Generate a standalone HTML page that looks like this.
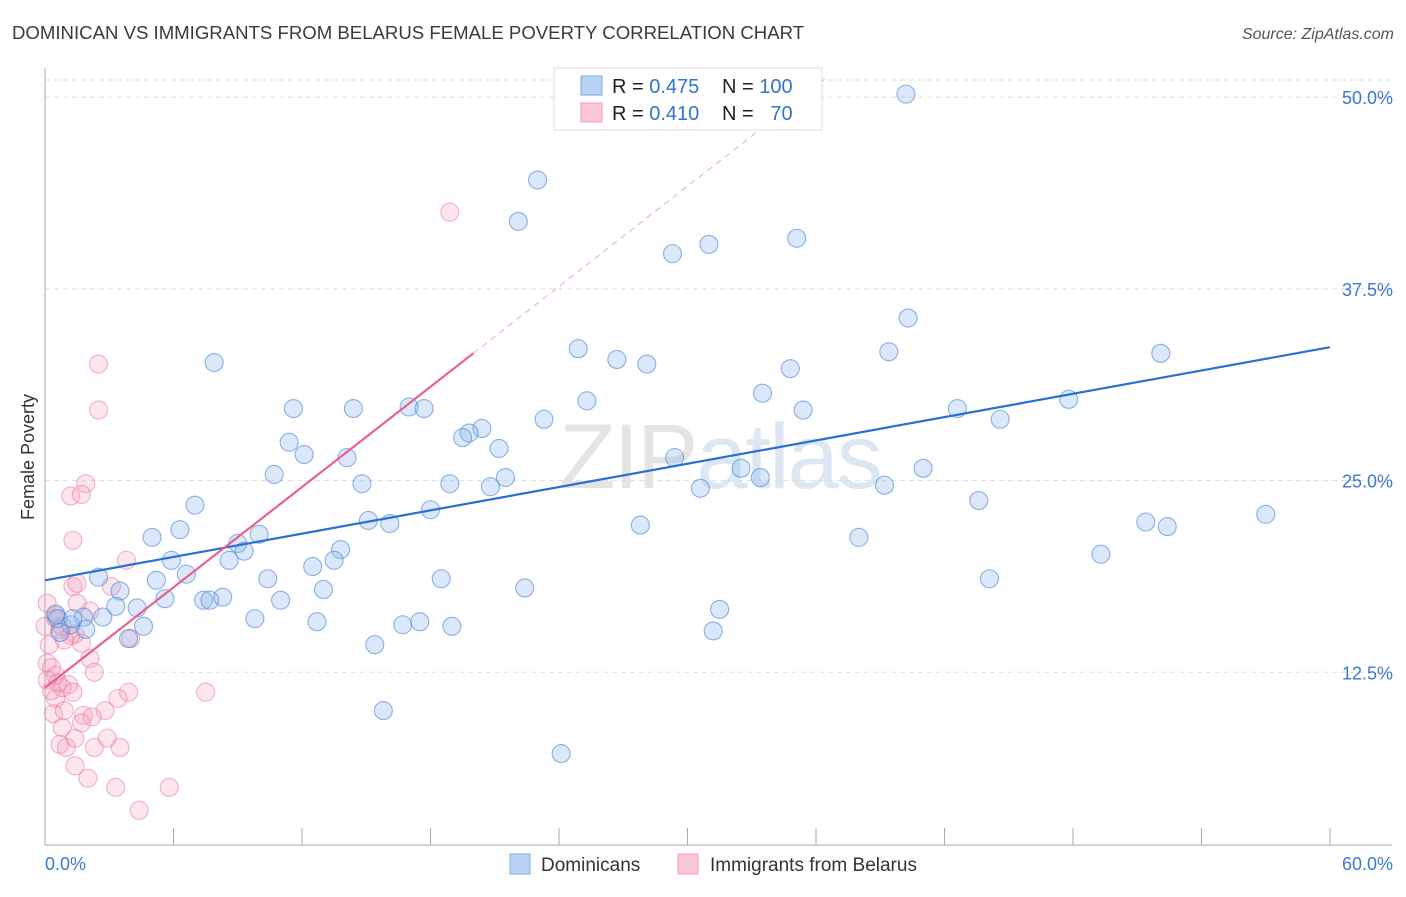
<!DOCTYPE html>
<html><head><meta charset="utf-8"><style>
body{margin:0;background:#fff;font-family:"Liberation Sans",sans-serif;}
svg text{font-family:"Liberation Sans",sans-serif;}
</style></head><body>
<svg id="chart" width="1406" height="892" xmlns="http://www.w3.org/2000/svg">
<text x="12" y="39" font-size="18.6" fill="#3a3a3a">DOMINICAN VS IMMIGRANTS FROM BELARUS FEMALE POVERTY CORRELATION CHART</text>
<text x="1394" y="39" font-size="16" fill="#555" font-style="italic" text-anchor="end">Source: ZipAtlas.com</text>
<text x="720" y="488" font-size="92" fill="#e4e4e4" text-anchor="middle" font-family="Liberation Serif" letter-spacing="-2">ZIP<tspan fill="#dde7f3" font-family="Liberation Sans">atlas</tspan></text>
<text transform="translate(34,457) rotate(-90)" font-size="18" fill="#333" text-anchor="middle">Female Poverty</text>
<g id="grid"></g><g id="axes"></g><g id="pts-pink"></g><g id="pts-blue"></g><g id="trends"></g>
<g>
<rect x="554" y="68" width="268" height="62" fill="#fff" stroke="#ddd"/>
<rect x="581" y="76" width="21" height="19" fill="#b9d3f5" stroke="#7da7e0"/>
<rect x="581" y="103" width="21" height="19" fill="#fcc6d5" stroke="#eda0b6"/>
<text x="612" y="93" font-size="20" fill="#222">R = <tspan fill="#3373d0">0.475</tspan></text>
<text x="722" y="93" font-size="20" fill="#222">N = <tspan fill="#3373d0">100</tspan></text>
<text x="612" y="120" font-size="20" fill="#222">R = <tspan fill="#3373d0">0.410</tspan></text>
<text x="722" y="120" font-size="20" fill="#222">N = <tspan fill="#3373d0">&#160;&#160;70</tspan></text>
</g>
<g>
<rect x="510" y="854" width="20" height="20" fill="#b9d3f5" stroke="#7da7e0"/>
<text x="541" y="871" font-size="19" fill="#333">Dominicans</text>
<rect x="678" y="854" width="20" height="20" fill="#fcc6d5" stroke="#eda0b6"/>
<text x="710" y="871" font-size="19" fill="#333">Immigrants from Belarus</text>
</g>
</svg>
<script>
const blueX=[40.2,23.0,22.1,29.3,31.0,35.1,40.3,7.9,24.9,26.7,28.1,39.4,52.1,34.8,33.5,25.3,11.6,14.4,17.0,17.7,35.4,42.6,44.6,47.8,23.3,20.4,19.8,19.5,11.4,12.1,14.1,21.2,29.4,32.5,33.4,41.0,10.7,14.8,18.9,20.8,21.5,30.6,39.2,43.6,7.0,6.3,15.1,16.1,18.0,27.8,38.0,51.4,52.4,57.0,5.0,9.0,10.0,9.3,8.6,13.8,13.5,5.9,12.5,6.6,2.5,5.2,10.4,18.5,49.3,44.1,22.4,13.0,3.5,5.6,7.4,7.7,8.3,11.0,4.3,3.3,2.7,1.8,0.5,0.6,9.8,12.7,16.7,17.5,19.0,31.5,31.2,4.6,1.9,1.2,0.7,3.9,15.4,15.8,24.1,1.3];
const blueY=[50.2,44.6,41.9,39.8,40.4,40.8,35.6,32.7,33.6,32.9,32.6,33.4,33.3,32.3,30.7,30.2,29.7,29.7,29.8,29.7,29.6,29.7,29.0,30.3,29.0,28.4,28.1,27.8,27.5,26.7,26.5,27.1,26.5,25.8,25.2,25.8,25.4,24.8,24.8,24.6,25.2,24.5,24.7,23.7,23.4,21.8,22.4,22.2,23.1,22.1,21.3,22.3,22.0,22.8,21.3,20.9,21.5,20.4,19.8,20.5,19.8,19.8,19.4,18.9,18.7,18.5,18.6,18.6,20.2,18.6,18.0,17.9,17.8,17.3,17.2,17.2,17.4,17.2,16.7,16.8,16.1,16.1,16.3,16.0,16.0,15.8,15.6,15.8,15.5,16.6,15.2,15.5,15.3,15.6,15.1,14.7,14.3,10.0,7.2,16.0];
const pinkX=[18.9,2.5,2.5,1.9,1.2,1.7,1.3,3.8,3.1,1.3,1.5,0.1,2.1,1.5,0.5,0.0,0.7,1.2,1.4,0.9,1.7,0.2,2.1,0.1,0.3,0.5,0.1,0.6,1.1,0.3,0.8,0.5,1.3,2.3,3.9,7.5,3.4,2.8,1.8,0.4,0.9,2.2,1.7,0.8,0.7,1.0,3.5,2.3,2.9,1.4,1.4,2.0,3.3,5.8,4.4,4.0,0.5,0.8];
const pinkY=[42.5,32.6,29.6,24.8,24.0,24.1,21.1,19.8,18.1,18.1,18.3,17.0,16.5,17.0,16.2,15.5,15.3,14.9,15.0,14.6,14.4,14.3,13.4,13.1,12.8,12.3,12.0,11.8,11.7,11.3,11.5,10.8,11.2,12.5,11.2,11.2,10.8,10.0,9.7,9.8,10.0,9.6,9.2,8.9,7.8,7.6,7.6,7.6,8.2,8.2,6.4,5.6,5.0,5.0,3.5,14.7,16.0,15.5];
const yTicks=[12.5,25,37.5,50];
const yTickLabels=["12.5%","25.0%","37.5%","50.0%"];
const xTicks=[0,6,12,18,24,30,36,42,48,54,60];
const blueTrend=[18.5,33.7];   // y at x=0 and x=60
const pinkTrend=[11.5,1.09];   // intercept, slope
const pinkSolidEnd=20.0, pinkDashEnd=36.4;

const X0=45,X1=1330,Y0=864,PY=191.7/12.5;
const sx=v=>X0+(v/60)*(X1-X0);
const sy=v=>Y0-v*PY;
const NS="http://www.w3.org/2000/svg";
function mk(tag,attrs,parent){const e=document.createElementNS(NS,tag);for(const k in attrs)e.setAttribute(k,attrs[k]);parent.appendChild(e);return e;}
const grid=document.getElementById('grid'),axes=document.getElementById('axes');
mk('line',{x1:X0,x2:1392,y1:80,y2:80,stroke:'#ddd','stroke-dasharray':'5,4'},grid);
yTicks.forEach((t,i)=>{
  const l=mk('line',{x1:X0,x2:1392,y1:sy(t),y2:sy(t),stroke:'#ddd','stroke-dasharray':'5,4'},grid);
  
  
  const tx=mk('text',{x:1393,y:sy(t)+7,'font-size':18,fill:'#3a78d6','text-anchor':'end'},axes);
  tx.textContent=yTickLabels[i];
  
  
});
const ya=mk('line',{x1:X0,x2:X0,y1:68,y2:845,stroke:'#aaa'},axes);


const xa=mk('line',{x1:X0,x2:1392,y1:845,y2:845,stroke:'#aaa'},axes);


xTicks.forEach(t=>{
  const l=mk('line',{x1:sx(t),x2:sx(t),y1:828,y2:845,stroke:'#aaa'},axes);
  
  
});
const xl0=mk('text',{x:45,y:870,'font-size':18,fill:'#3a78d6'},axes);xl0.textContent=xTicks[0].toFixed(1)+'%';


const xl1=mk('text',{x:1393,y:870,'font-size':18,fill:'#3a78d6','text-anchor':'end'},axes);xl1.textContent=xTicks[xTicks.length-1].toFixed(1)+'%';


const pp=document.getElementById('pts-pink'),pb=document.getElementById('pts-blue');
pinkX.forEach((v,i)=>{
  const c=mk('circle',{cx:sx(v),cy:sy(pinkY[i]),r:9,fill:'rgba(246,160,186,0.28)',stroke:'rgba(232,120,156,0.55)','stroke-width':1.1},pp);
  
  
});
blueX.forEach((v,i)=>{
  const c=mk('circle',{cx:sx(v),cy:sy(blueY[i]),r:9,fill:'rgba(140,182,236,0.32)',stroke:'rgba(70,130,215,0.6)','stroke-width':1.1},pb);
  
  
});
const tr=document.getElementById('trends');
const bt=mk('line',{x1:sx(0),y1:sy(blueTrend[0]),x2:sx(60),y2:sy(blueTrend[1]),stroke:'#2a6fd6','stroke-width':2.2},tr);


const pf=x=>pinkTrend[0]+pinkTrend[1]*x;
const pd=mk('line',{x1:sx(pinkSolidEnd),y1:sy(pf(pinkSolidEnd)),x2:sx(pinkDashEnd),y2:sy(pf(pinkDashEnd)),stroke:'#f0a8bf','stroke-width':1,'stroke-dasharray':'6,5'},tr);


const ps=mk('line',{x1:sx(0),y1:sy(pf(0)),x2:sx(pinkSolidEnd),y2:sy(pf(pinkSolidEnd)),stroke:'#e8608e','stroke-width':2.2},tr);


</script>
</body></html>
